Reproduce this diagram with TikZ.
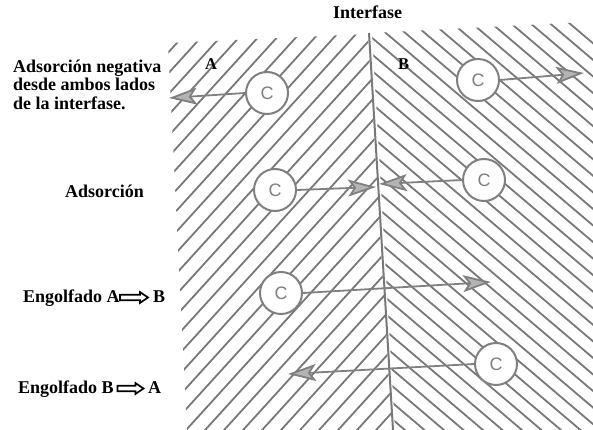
\documentclass[tikz,border=0pt]{standalone}
\usepackage{fontspec}
\setmainfont{Liberation Serif}
\newfontfamily\csans{Liberation Sans}
\usetikzlibrary{arrows.meta}

\definecolor{hatch}{HTML}{787878}
\definecolor{ink}{HTML}{808080}
\definecolor{headfill}{HTML}{B4B4B4}

\tikzset{
  hatchline/.style={draw=hatch, line width=1.8pt, line cap=round},
  particle/.style={circle, draw=ink, line width=2pt, fill=white,
    minimum size=42pt, inner sep=0pt, text=ink, font=\csans\fontsize{18}{18}\selectfont},
  moveto/.style={draw=ink, line width=1.8pt,
    -{Stealth[length=28pt, width=17pt, inset=6pt, fill=headfill]}},
  label/.style={font=\bfseries\fontsize{18}{18.5}\selectfont, inner sep=0pt, anchor=base west},
  side/.style={font=\bfseries\fontsize{16.5}{17}\selectfont, inner sep=0pt, anchor=base west},
  hollow/.style={draw=black, line width=1.7pt, fill=white, line join=miter},
}
% hollow block arrow: start point, length
\newcommand\blockarrow[2]{%
  \draw[hollow] #1 ++(0,-2.8) -- ++({#2-8},0) -- ++(0,-2.6) -- ++(8,5.4)
    -- ++(-8,5.4) -- ++(0,-2.6) -- ++({-(#2-8)},0) -- cycle;}

\begin{document}
\begin{tikzpicture}[x=1pt, y=-1pt]
\useasboundingbox (0,0) rectangle (593,430);

% phase A: "/" hatching
\begin{scope}
  \clip (168,43) -- (368,34) -- (392,430) -- (187,430) -- cycle;
  \foreach \i in {0,...,40}
    \draw[hatchline] ({-260+\i*19},440) -- ++(420,-462);
\end{scope}

% phase B: "\" hatching
\begin{scope}
  \clip (372,33) -- (585,22) -- (593,40) -- (593,430) -- (395,430) -- cycle;
  \foreach \i in {0,...,40}
    \draw[hatchline] ({-160+\i*19.5},0) -- ++(530,450);
\end{scope}

% interface
\coordinate (itop) at (369,33);
\coordinate (ibot) at (393,430);
\draw[draw=hatch, line width=2pt] (itop) -- (ibot);

% particles
\node[particle] (c1) at (478,80) {C};
\node[particle] (c2) at (267,93) {C};
\node[particle] (c3) at (275,190) {C};
\node[particle] (c4) at (484,180) {C};
\node[particle] (c5) at (281,293) {C};
\node[particle] (c6) at (496,364) {C};

% arrow tips
\coordinate (t1) at (584,73);
\coordinate (t2) at (169,98);
\coordinate (t3) at (376,187);
\coordinate (t4) at (379,184);
\coordinate (t5) at (491,282);
\coordinate (t6) at (288,374);

\draw[moveto] (c1.east) -- (t1);
\draw[moveto] (c2.west) -- (t2);
\draw[moveto] (c3.east) -- (t3);
\draw[moveto] (c4.west) -- (t4);
\draw[moveto] (c5.east) -- (t5);
\draw[moveto] (c6.west) -- (t6);

% texts
\node[label] (interf) at (333,19) {Interfase};
\node[side] (pa) at (205,70) {A};
\node[side] (pb) at (398,70) {B};
\node[label, anchor=north west, align=left] (neg) at (13,59.5)
  {Adsorción negativa\\desde ambos lados\\de la interfase.};
\node[label] (ads) at (65,197) {Adsorción};

\node[label] (eab) at (23,302) {Engolfado A};
\coordinate (arr1) at (120,297.5);
\blockarrow{(arr1)}{28}
\node[label] (eabB) at (153,302) {B};

\node[label] (eba) at (18,393) {Engolfado B};
\coordinate (arr2) at (117.5,388.5);
\blockarrow{(arr2)}{26}
\node[label] (ebaA) at (148,393) {A};
\end{tikzpicture}
\end{document}
